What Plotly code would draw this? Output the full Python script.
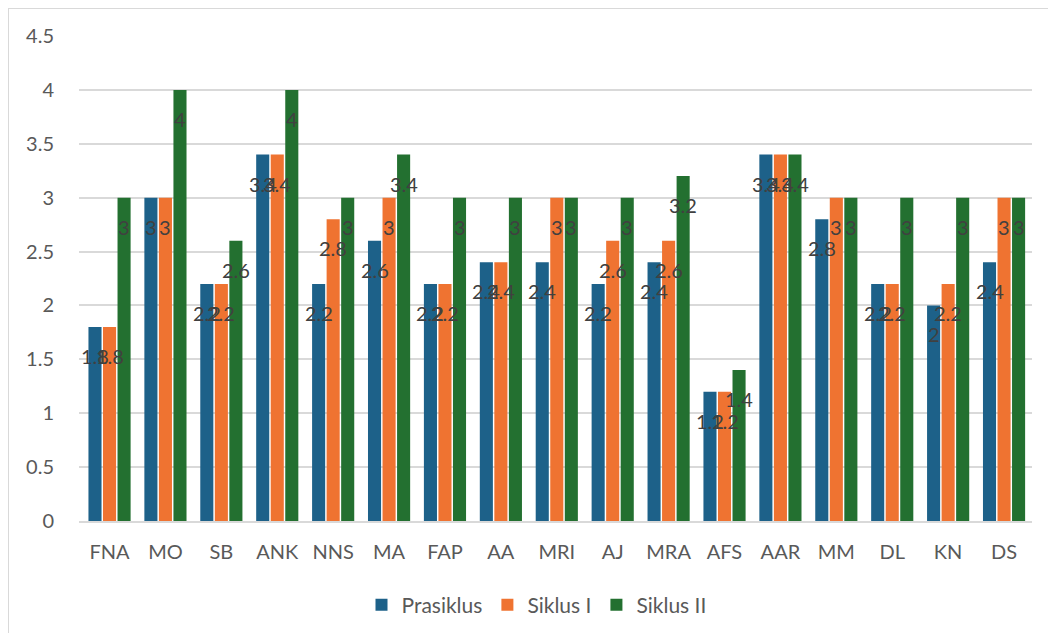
import plotly.graph_objects as go

categories = ["FNA", "MO", "SB", "ANK", "NNS", "MA", "FAP", "AA", "MRI", "AJ",
              "MRA", "AFS", "AAR", "MM", "DL", "KN", "DS"]
prasiklus = [1.8, 3, 2.2, 3.4, 2.2, 2.6, 2.2, 2.4, 2.4, 2.2, 2.4, 1.2, 3.4, 2.8, 2.2, 2, 2.4]
siklus_1 = [1.8, 3, 2.2, 3.4, 2.8, 3, 2.2, 2.4, 3, 2.6, 2.6, 1.2, 3.4, 3, 2.2, 2.2, 3]
siklus_2 = [3, 4, 2.6, 4, 3, 3.4, 3, 3, 3, 3, 3.2, 1.4, 3.4, 3, 3, 3, 3]
series_names = ["Prasiklus", "Siklus I", "Siklus II"]
y_ticks = [0, 0.5, 1, 1.5, 2, 2.5, 3, 3.5, 4, 4.5]

series = [prasiklus, siklus_1, siklus_2]
colors = ["#1d6189", "#ef7331", "#237030"]
font_family = "Lato, 'Open Sans', sans-serif"

W, H = 1040, 625
L, R, T, B = 71, 16, 28, 112
PH = H - T - B
PW = W - L - R

BARGAP = 0.22
fig = go.Figure()
for name, vals, col in zip(series_names, series, colors):
    fig.add_trace(go.Bar(
        x=categories, y=vals, name=name,
        marker=dict(color=col, line=dict(width=0)),
    ))

# data labels (Excel-style, slightly below the bar top)
slot = (1 - BARGAP) / len(series)
annotations = []
for k, vals in enumerate(series):
    off = (k - (len(series) - 1) / 2) * slot
    for i, v in enumerate(vals):
        annotations.append(dict(
            x=i + off, y=v, xref="x", yref="y", text=f"{v:g}",
            showarrow=False, yshift=-29, xanchor="center", yanchor="middle",
            font=dict(family=font_family, size=20, color="#404040"),
        ))

fig.update_layout(
    barmode="group", bargap=BARGAP, bargroupgap=0.1,
    width=W, height=H,
    margin=dict(l=L, r=R, t=T, b=B, autoexpand=False),
    paper_bgcolor="white", plot_bgcolor="white",
    font=dict(family=font_family, color="#595959", size=20),
    annotations=annotations,
    showlegend=True,
    legend=dict(orientation="h", x=0.5 - 19 / PW, xanchor="center",
                yref="container", y=1 - 597 / H, yanchor="middle",
                font=dict(size=21, color="#595959"), itemwidth=30,
                traceorder="normal"),
    shapes=[dict(type="rect", xref="paper", yref="paper",
                 x0=(0 - L) / PW, x1=(W + 20 - L) / PW,
                 y0=-(B + 20) / PH, y1=(PH + T - 0) / PH,
                 line=dict(color="#d9d9d9", width=2), fillcolor="rgba(0,0,0,0)",
                 layer="below")],
)
fig.update_xaxes(showgrid=False, showline=True, linecolor="#d9d9d9", linewidth=1.5,
                 ticks="", ticklabelstandoff=12, automargin=False,
                 tickfont=dict(size=20, color="#595959"))
fig.update_yaxes(range=[0, 4.5], tickvals=y_ticks, ticktext=[f"{t:g}" for t in y_ticks],
                 showgrid=True, gridcolor="#d9d9d9", gridwidth=1.5, automargin=False,
                 zeroline=False, showline=False, ticks="", ticklabelstandoff=24,
                 tickfont=dict(size=20, color="#595959"))

fig.write_html("out.html")
